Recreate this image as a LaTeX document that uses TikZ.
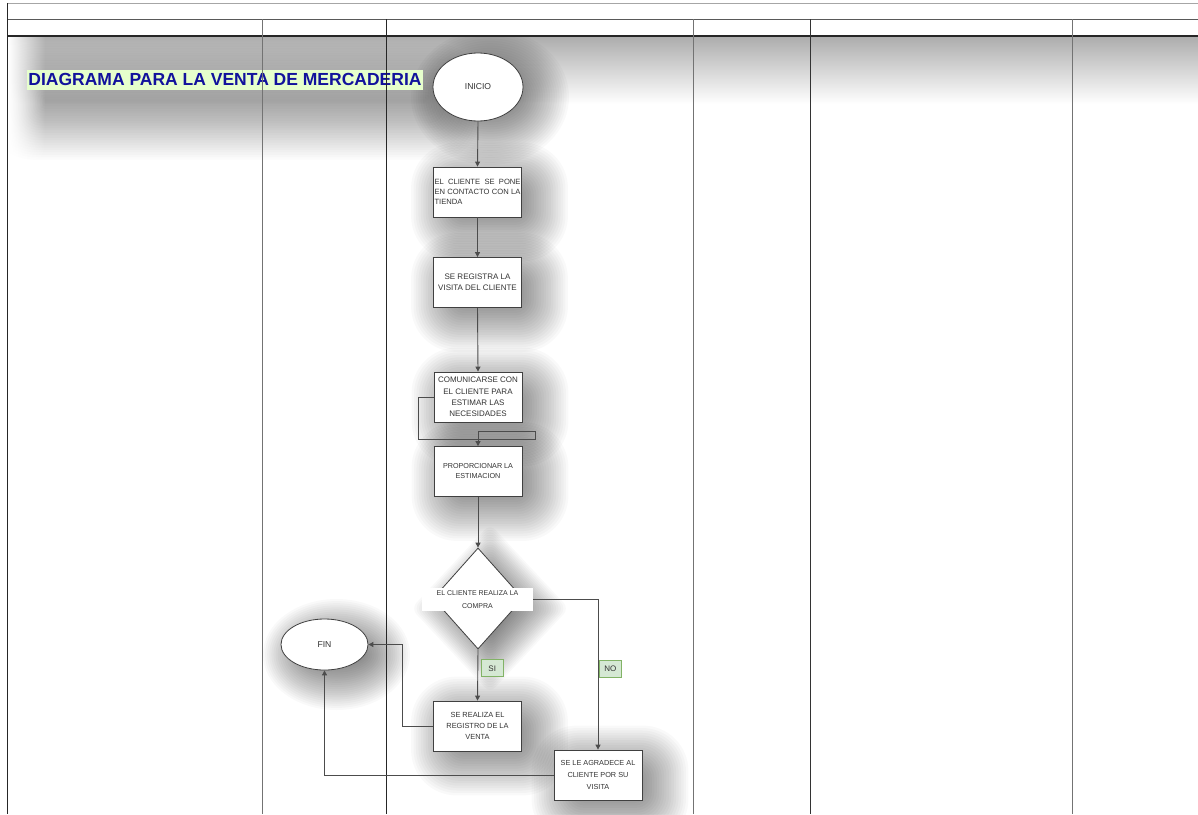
\documentclass[tikz,border=0pt]{standalone}
\usepackage{fontspec}
\setmainfont{Liberation Sans}
\usetikzlibrary{shapes.geometric,arrows.meta,fadings,calc}
\definecolor{titlebg}{HTML}{E6FFCC}
\definecolor{titlefg}{HTML}{12129C}
\definecolor{labbg}{HTML}{D5E8D4}
\definecolor{labdr}{HTML}{82B366}
\definecolor{txt}{HTML}{333333}
\pgfdeclarelayer{shade}
\pgfdeclarelayer{lines}
\pgfsetlayers{shade,lines,main}
% soft rectangular shadow: node, dx, dy, outer spread, inner shrink, step opacity
\newcommand\rectshadow[6]{%
  \foreach \k in {0,...,23}{%
    \pgfmathsetmacro\e{#4-\k*(#4+#5)/23}%
    \pgfmathsetmacro\rc{max(\e+#5,0)*0.8+0.5}%
    \fill[black, fill opacity=#6, rounded corners=\rc pt]
      ($(#1.north west)+(#2-\e,#3-\e)$) rectangle ($(#1.south east)+(#2+\e,#3+\e)$);
  }}
% soft elliptic shadow: node, rx, ry, dx, dy, spread, step opacity
\newcommand\ellshadow[7]{%
  \foreach \k in {0,...,23}{%
    \pgfmathsetmacro\e{#6-\k*(1.6*#6)/23}%
    \fill[black, fill opacity=#7, shift={(#1.center)}]
      (#4,#5) ellipse [x radius={max(#2+\e,1)}, y radius={max(#3+\e,1)}];
  }}
\newcommand\jsp{\hspace{0.2em plus 1fill}}
\begin{document}
\begin{tikzpicture}[x=1pt,y=-1pt,
  box/.style={draw=black!75, fill=white, line width=0.8pt, minimum width=88pt, minimum height=50pt,
    inner sep=1pt, font=\fontsize{7.4}{11.3}\selectfont, text=txt, align=center},
  oval/.style={ellipse, draw=black!75, fill=white, line width=0.8pt, inner sep=0pt,
    font=\fontsize{8.6}{10}\selectfont, text=txt},
  lab/.style={draw=labdr, fill=labbg, inner sep=0pt, minimum height=17pt,
    font=\fontsize{8}{10}\selectfont, text=txt},
  conn/.style={draw=black!70, line width=0.9pt},
  arr/.style={conn, -{Triangle[length=5pt,width=5pt]}}
]
\useasboundingbox (0,0) rectangle (1198,814);

% nodes
\node[oval, minimum width=90pt, minimum height=68pt] (inicio) at (478,87) {INICIO};
\node[box, align=left, text width=86pt, font=\fontsize{7.6}{10}\selectfont] (b1) at (477.5,192)
  {\makebox[86pt]{EL\jsp CLIENTE\jsp SE\jsp PONE}\\\makebox[86pt]{EN\jsp CONTACTO\jsp CON\jsp LA}\\TIENDA};
\node[box, font=\fontsize{8}{10.7}\selectfont] (b2) at (477.5,282.5) {SE REGISTRA LA\\VISITA DEL CLIENTE};
\node[box, font=\fontsize{8}{11.3}\selectfont] (b3) at (478,397)
  {COMUNICARSE CON\\EL CLIENTE PARA\\ESTIMAR LAS\\NECESIDADES};
\node[box, font=\fontsize{7.2}{10}\selectfont] (b4) at (478,471.5) {PROPORCIONAR LA\\ESTIMACION};
\node[diamond, draw=black!75, fill=white, line width=0.8pt, inner sep=0pt,
  minimum width=90pt, minimum height=101pt] (dia) at (478,598.5) {};
\node[fill=white, inner sep=0pt, minimum width=111pt, minimum height=23pt, align=center,
  font=\fontsize{7}{12.5}\selectfont, text=txt] (dlab) at (477.5,599.5)
  {EL CLIENTE REALIZA LA\\COMPRA};
\node[box] (b5) at (477.5,726) {SE REALIZA EL\\REGISTRO DE LA\\VENTA};
\node[box, font=\fontsize{7.3}{11.7}\selectfont] (b6) at (598,775) {SE LE AGRADECE AL\\CLIENTE POR SU\\VISITA};
\node[oval, minimum width=87pt, minimum height=51pt] (fin) at (324.5,644.5) {FIN};

% connectors
\draw[arr] (inicio.south) -- (b1.north);
\draw[arr] (b1.south) -- (b2.north);
\draw[arr] (b2.south) -- (b3.north);
\draw[arr] (b3.west) -- ++(-15,0) -- ++(0,42) -- ++(117,0) -- ++(0,-8) -| (b4.north);
\draw[arr] (b4.south) -- (dia.north);
\draw[arr] (dia.south) -- node[lab, anchor=west, minimum width=22pt, pos=0.37, xshift=3pt] (si) {SI} (b5.north);
\draw[arr] (dlab.east) -| node[lab, anchor=west, minimum width=22pt, pos=0.73, xshift=1pt] (no) {NO} (b6.north);
\draw[arr] (b5.west) -- ++(-31,0) |- (fin.east);
\draw[arr] (b6.west) -| (fin.south);

% title and table lines
\begin{pgfonlayer}{lines}
\node[fill=titlebg, text=titlefg, font=\fontsize{17.5}{20}\bfseries, inner sep=0pt,
  minimum width=396pt, minimum height=20pt] (title) at (225,79.5) {DIAGRAMA PARA LA VENTA DE MERCADERIA};
\draw[gray!70, line width=0.8pt] (7,3) -- (1198,3);
\draw[black!65, line width=0.9pt] (7,19) -- (1198,19);
\draw[black!85, line width=1.1pt] (7,36) -- (1198,36);
\draw[black!85, line width=1pt] (7,3) -- (7,814);
\draw[black!55, line width=0.9pt] (262,19) -- (262,814);
\draw[black!85, line width=1pt] (386.5,19) -- (386.5,814);
\draw[black!55, line width=0.9pt] (693,19) -- (693,814);
\draw[black!80, line width=0.9pt] (810,19) -- (810,814);
\draw[black!55, line width=0.9pt] (1072,19) -- (1072,814);
\end{pgfonlayer}

% shadows
\begin{pgfonlayer}{shade}
\fill[white] (0,0) rectangle (1198,814);
\begin{scope}
\clip (8,37) rectangle (1198,814);
\shade[top color=gray!64, bottom color=white] (8,37) rectangle (1198,104);
\rectshadow{title}{10}{22}{48}{8}{0.017}
\fill[white, path fading=east] (8,37) rectangle (45,170);
\ellshadow{inicio}{45}{34}{12}{10}{34}{0.022}
\rectshadow{b1}{12}{10}{34}{22}{0.022}
\rectshadow{b2}{12}{10}{34}{22}{0.022}
\rectshadow{b3}{12}{10}{34}{22}{0.022}
\rectshadow{b4}{12}{10}{34}{22}{0.022}
\rectshadow{b5}{12}{10}{34}{22}{0.022}
\rectshadow{b6}{12}{10}{34}{22}{0.022}
\ellshadow{fin}{43.5}{25.5}{12}{10}{30}{0.022}
\foreach \k in {0,...,23}{%
  \pgfmathsetmacro\e{34-\k*56/23}%
  \fill[black, fill opacity=0.022, shift={(dia.center)}, rounded corners=8pt]
    (12,{10-50.5-\e}) -- ({12+45+\e},10) -- (12,{10+50.5+\e}) -- ({12-45-\e},10) -- cycle;
}
\end{scope}
\end{pgfonlayer}
\end{tikzpicture}
\end{document}
